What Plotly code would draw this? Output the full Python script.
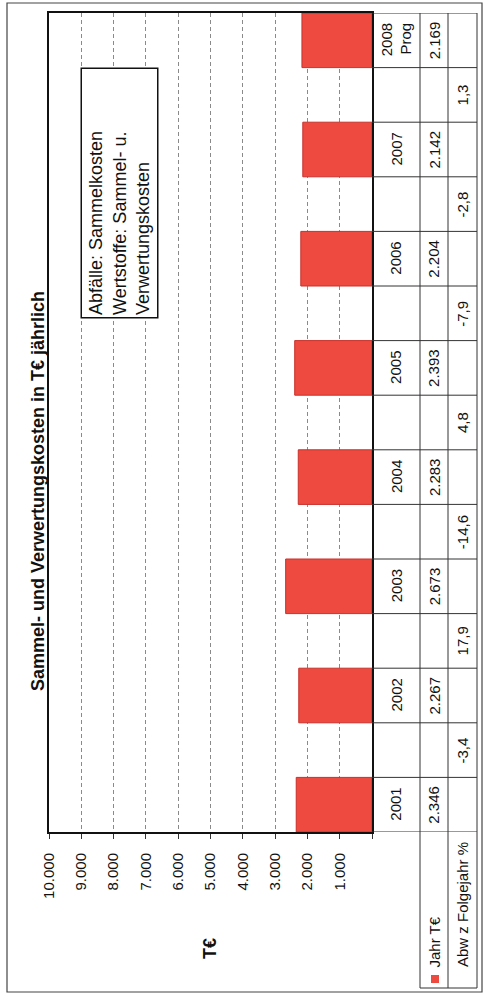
import plotly.graph_objects as go

# ---- data ----
years = ["2001", "2002", "2003", "2004", "2005", "2006", "2007", "2008<br>Prog"]
jahr_te = [2346, 2267, 2673, 2283, 2393, 2204, 2142, 2169]
abw_pct = [-3.4, 17.9, -14.6, 4.8, -7.9, -2.8, 1.3]
value_ticks = [1000, 2000, 3000, 4000, 5000, 6000, 7000, 8000, 9000, 10000]

title_text = "Sammel- und Verwertungskosten in T€ jährlich"
note_text = "Abfälle: Sammelkosten<br>Wertstoffe: Sammel- u.<br>Verwertungskosten"

FONT = "Liberation Sans, Arial, sans-serif"
RED = "#EE4A3F"

# page / plot geometry (pixels)
WID, HEI = 485, 996
L, R, T, B = 49, 372, 13, 832
PW, PH = R - L, B - T


def px(x):
    return (x - L) / PW


def py(y):
    return (B - y) / PH


def de_int(v):
    return f"{v:,}".replace(",", ".")


def de_dec(v):
    return f"{v:.1f}".replace(".", ",")


# bars on even cells, deviations on odd cells
bar_pos = [2 * i for i in range(len(jahr_te))]
abw_pos = [2 * i + 1 for i in range(len(abw_pct))]
n_cells = 2 * len(jahr_te) - 1

fig = go.Figure()
fig.add_trace(go.Bar(
    x=jahr_te, y=bar_pos, orientation="h", width=1,
    marker=dict(color=RED, line=dict(color="#C9302A", width=1)),
    showlegend=False, hoverinfo="x",
))

shapes = []
annotations = []

line_col = "#333333"
# table column lines
col_x = [420, 448, 477]
for cx in col_x:
    shapes.append(dict(type="line", xref="paper", yref="paper",
                       x0=px(cx), x1=px(cx), y0=py(T), y1=py(988),
                       line=dict(color=line_col, width=1)))
# table cell boundaries (category boundaries)
for k in range(n_cells + 1):
    shapes.append(dict(type="line", xref="paper", yref="y",
                       x0=px(R), x1=px(477), y0=k - 0.5, y1=k - 0.5,
                       line=dict(color=line_col, width=1)))
# header block bottom
shapes.append(dict(type="line", xref="paper", yref="paper",
                   x0=px(420), x1=px(477), y0=py(988), y1=py(988),
                   line=dict(color=line_col, width=1)))
# outer frame
shapes.append(dict(type="rect", xref="paper", yref="paper",
                   x0=px(7), x1=px(482), y0=py(3), y1=py(992),
                   line=dict(color="#444444", width=1.2)))
# legend key
shapes.append(dict(type="rect", xref="paper", yref="paper",
                   x0=px(431), x1=px(439), y0=py(983), y1=py(975),
                   fillcolor=RED, line=dict(color=RED, width=0)))

tfont = dict(family=FONT, size=15, color="#111111")
C = dict(xanchor="center", yanchor="middle", showarrow=False, textangle=-90)
# year row
for p, yr in zip(bar_pos, years):
    annotations.append(dict(
        xref="paper", yref="y", x=px(396), y=p, text=yr,
        font=tfont, align="right", **C))
# value row
for p, v in zip(bar_pos, jahr_te):
    annotations.append(dict(
        xref="paper", yref="y", x=px(434), y=p, text=de_int(v),
        font=tfont, **C))
# deviation row
for p, v in zip(abw_pos, abw_pct):
    annotations.append(dict(
        xref="paper", yref="y", x=px(462.5), y=p, text=de_dec(v),
        font=tfont, **C))
# row headers
annotations.append(dict(
    xref="paper", yref="paper", x=px(434), y=py(970), text="Jahr T€",
    textangle=-90, showarrow=False, font=tfont, xanchor="center", yanchor="bottom"))
annotations.append(dict(
    xref="paper", yref="paper", x=px(462.5), y=py(969), text="Abw z Folgejahr %",
    textangle=-90, showarrow=False, font=tfont, xanchor="center", yanchor="bottom"))
# title
annotations.append(dict(
    xref="paper", yref="paper", x=px(38), y=py(491), text="<b>" + title_text + "</b>",
    font=dict(family=FONT, size=18, color="#111111"), **C))
# axis title
annotations.append(dict(
    xref="paper", yref="paper", x=px(210), y=py(949), text="<b>T€</b>",
    font=dict(family=FONT, size=18, color="#111111"), **C))
# note box
annotations.append(dict(
    xref="paper", yref="paper", x=px(119.5), y=py(193), text=note_text,
    align="left", width=244, height=71,
    bordercolor="#111111", borderwidth=1.5, borderpad=2, bgcolor="white",
    font=dict(family=FONT, size=18, color="#111111"), **C))

fig.update_layout(
    width=WID, height=HEI,
    margin=dict(l=L, r=WID - R, t=T, b=HEI - B, pad=0),
    paper_bgcolor="white", plot_bgcolor="white",
    separators=",.",
    showlegend=False,
    shapes=shapes, annotations=annotations,
    xaxis=dict(
        range=[10000, 0], tickvals=[0] + value_ticks,
        ticktext=[""] + [de_int(v) for v in value_ticks],
        tickangle=-90, ticks="outside", ticklen=5, tickcolor="#333333",
        ticklabelstandoff=8,
        tickfont=dict(family=FONT, size=15, color="#111111"),
        showgrid=True, gridcolor="#8a8a8a", griddash="4px,3px", gridwidth=1,
        showline=True, mirror=True, linecolor="#111111", linewidth=2,
        zeroline=False,
    ),
    yaxis=dict(
        range=[-0.5, n_cells - 0.5], showticklabels=False, ticks="",
        showgrid=False, zeroline=False,
        showline=True, mirror=True, linecolor="#111111", linewidth=2,
    ),
)

fig.write_html("out.html", config={"displayModeBar": False},
               post_script="document.body.style.margin='0';")
